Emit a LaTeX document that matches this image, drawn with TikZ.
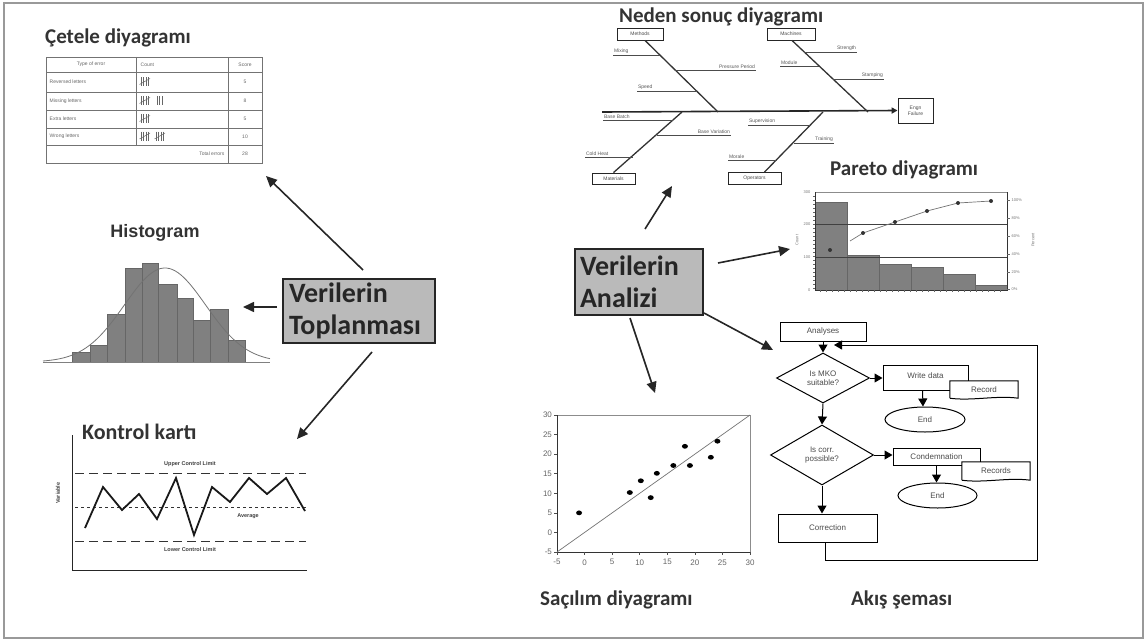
\documentclass[tikz,border=0pt]{standalone}
\usepackage{fontspec}
\setmainfont{Carlito}
\newfontfamily\lsans{Liberation Sans}
\usetikzlibrary{arrows.meta,shapes.geometric,calc}

\begin{document}
\begin{tikzpicture}[x=1pt,y=-1pt,
  ttl/.style={font=\bfseries\fontsize{21}{21}\selectfont, text=black!80, inner sep=0pt, anchor=base west},
  hub/.style={draw=black!85, line width=1.3pt, fill=black!27, font=\bfseries\fontsize{28}{32}\selectfont,
              align=left, text=black!85, inner sep=0pt},
  bigarrow/.style={draw=black!85, line width=1.6pt, -{Triangle[length=11pt,width=10pt]}},
  tab/.style={draw=black!55, line width=0.6pt},
  tabtxt/.style={font=\lsans\fontsize{5}{6}\selectfont, text=black!60, inner sep=0.5pt},
  tally/.style={draw=black!60, line width=0.5pt},
  bar/.style={draw=black!60, fill=black!50, line width=0.5pt},
  fl/.style={font=\lsans\fontsize{5}{5}\selectfont, text=black!65, inner sep=0.8pt},
  fbone/.style={draw=black!80, line width=1.3pt},
  rib/.style={draw=black!70, line width=0.6pt},
  fbox/.style={draw=black!85, line width=0.9pt, fill=white, font=\lsans\fontsize{5}{5}\selectfont,
               text=black!70, inner sep=1pt, align=center},
  ctl/.style={font=\lsans\bfseries\fontsize{5.5}{6}\selectfont, text=black!75, inner sep=0.5pt},
  tick/.style={font=\lsans\fontsize{8}{8}\selectfont, text=black!60, inner sep=1pt},
  ptick/.style={font=\lsans\fontsize{4}{4}\selectfont, text=black!55, inner sep=0.5pt},
  fcbox/.style={draw=black, line width=1pt, fill=white, font=\lsans\fontsize{8}{9}\selectfont,
                text=black!70, inner sep=1pt, align=center},
  fcdoc/.style={fill=white, font=\lsans\fontsize{8}{9}\selectfont, text=black!70, inner sep=1pt},
  fcline/.style={draw=black, line width=1pt},
  fcarrow/.style={draw=black, line width=1pt, -{Triangle[length=8pt,width=9pt]}},
  pics/tallyfive/.style={code={
    \foreach \dx in {0,2.5,5,7.5} \draw[tally] (\dx,0) -- (\dx,9);
    \draw[tally] (-1.5,7.5) -- (9,1.5);}},
  pics/tallyone/.style={code={\draw[tally] (0,0) -- (0,9);}}
]
\useasboundingbox (0,0) rectangle (1147,642);
\draw[black!40, line width=1.2pt] (4,3) rectangle (1143,638);

% ================= central boxes
\node[hub, minimum width=152pt, minimum height=64pt, text width=140pt] (topl) at (359,311) {Verilerin\\Toplanması};
\node[hub, minimum width=128pt, minimum height=66pt, text width=118pt] (anal) at (639,282) {Verilerin\\Analizi};

% ================= check sheet
\node[ttl] (tCet) at (45,44) {Çetele diyagramı};
\draw[tab] (46,57) rectangle (262,163);
\foreach \yy in {72,92,110,128,145} \draw[tab] (46,\yy) -- (262,\yy);
\draw[tab] (136,57) -- (136,145);
\draw[tab] (228,57) -- (228,163);
\node[tabtxt] (hType) at (91,64.5) {Type of error};
\node[tabtxt, anchor=west] (hCount) at (140,64.5) {Count};
\node[tabtxt] (hScore) at (245,64.5) {Score};
\node[tabtxt, anchor=west] (e1) at (49,82) {Reversed letters};
\node[tabtxt, anchor=west] (e2) at (49,101) {Missing letters};
\node[tabtxt, anchor=west] (e3) at (49,119) {Extra letters};
\node[tabtxt, anchor=west] (e4) at (49,136.5) {Wrong letters};
\node[tabtxt, anchor=east] (eT) at (225,154) {Total errors};
\node[tabtxt] (s1) at (245,82) {5};
\node[tabtxt] (s2) at (245,101) {8};
\node[tabtxt] (s3) at (245,119) {5};
\node[tabtxt] (s4) at (245,136.5) {10};
\node[tabtxt] (sT) at (245,154) {28};
\pic at (141,77) {tallyfive};
\pic at (141,96) {tallyfive};
\foreach \dx in {157,159.5,162} \pic at (\dx,96) {tallyone};
\pic at (141,114) {tallyfive};
\pic at (141,131.5) {tallyfive};
\pic at (156,131.5) {tallyfive};

% ================= histogram
\node[font=\lsans\bfseries\fontsize{18}{18}\selectfont, text=black!80, inner sep=0pt, anchor=base] (tHist) at (155,237) {Histogram};
\foreach \xa/\xb/\yt in {72/90/352, 90/107/345, 107/125/314, 125/142/268, 142/158/263,
                         158/177/284, 177/193/298, 193/210/320, 210/228/309, 228/245/340}
  \draw[bar] (\xa,362) rectangle (\xb,\yt);
\draw[black!50, line width=0.6pt] (43,362) -- (270,362);
\draw[black!55, line width=0.8pt] plot[domain=43:270, samples=80, smooth] (\x,{362-94*exp(-((\x-165)^2)/3300)});

% ================= control chart
\node[ttl, font=\bfseries\fontsize{22}{22}\selectfont] (tKon) at (82,439) {Kontrol kartı};
\draw[black!85, line width=1pt] (72,435) -- (72,570) -- (307,570);
\draw[black!80, line width=1pt, dash pattern=on 9pt off 5pt] (75,473) -- (306,473);
\draw[black!80, line width=0.9pt, dash pattern=on 3pt off 3pt] (75,507) -- (306,507);
\draw[black!80, line width=1pt, dash pattern=on 9pt off 5pt] (75,541) -- (306,541);
\node[ctl] (lUcl) at (190,464.5) {Upper Control Limit};
\node[ctl] (lAvg) at (248,516.5) {Average};
\node[ctl] (lLcl) at (190,550) {Lower Control Limit};
\node[ctl, rotate=90] (lVar) at (58,493) {Variable};
\draw[black!90, line width=1.8pt, line join=miter]
  (85,528) -- (103,487) -- (122,510) -- (139,494) -- (157,519) -- (176,478) -- (194,535)
  -- (212,487) -- (230,502) -- (249,478) -- (267,494) -- (286,478) -- (305,511);

% ================= cause and effect diagram
\node[ttl] (tNeden) at (619,23) {Neden sonuç diyagramı};
\node[fbox, minimum width=46pt, minimum height=12pt] (bMeth) at (640,34) {Methods};
\node[fbox, minimum width=48pt, minimum height=12pt] (bMach) at (791,34) {Machines};
\node[fbox, minimum width=43pt, minimum height=11pt] (bMat) at (613.5,178.5) {Materials};
\node[fbox, minimum width=53pt, minimum height=12pt] (bOper) at (754.5,178.5) {Operators};
\node[fbox, minimum width=35pt, minimum height=25pt, font=\lsans\fontsize{5}{6}\selectfont] (bHead) at (915.5,110.5) {Engn\\Failure};
\coordinate (spTail) at (602,112);
\draw[draw=black!85, line width=1.6pt, -{Triangle[length=6pt,width=6pt]}] (spTail) -- (bHead.west);
\draw[fbone] ($(bMeth.south)+(5,0)$) -- (718,112);
\draw[fbone] ($(bMach.south)+(1,0)$) -- (868,112);
\draw[fbone] (bMat.north) -- (682,112);
\draw[fbone] ($(bOper.north)+(10,0)$) -- (823,112);
% ribs: methods
\node[fl, anchor=south west] (rMix) at (613,55) {Mixing};
\draw[rib] (rMix.south west) -- (660,55);
\node[fl, anchor=south east] (rPre) at (756,70) {Pressure Period};
\draw[rib] (675,70) -- (rPre.south east);
\node[fl, anchor=south west] (rSpe) at (637,91) {Speed};
\draw[rib] (rSpe.south west) -- (697,91);
% ribs: materials
\node[fl, anchor=south west] (rBat) at (603,120) {Base Batch};
\draw[rib] (rBat.south west) -- (673,120);
\node[fl, anchor=south east] (rVar) at (731,135) {Base Variation};
\draw[rib] (657,135) -- (rVar.south east);
\node[fl, anchor=south west] (rCol) at (585,157) {Cold Heat};
\draw[rib] (rCol.south west) -- (633,157);
% ribs: machines
\node[fl, anchor=south east] (rStr) at (857,52) {Strength};
\draw[rib] (804,52) -- (rStr.south east);
\node[fl, anchor=south west] (rMod) at (780,66) {Module};
\draw[rib] (rMod.south west) -- (819,66);
\node[fl, anchor=south east] (rSta) at (884,79) {Stamping};
\draw[rib] (833,79) -- (rSta.south east);
% ribs: operators
\node[fl, anchor=south west] (rSup) at (748,125) {Supervision};
\draw[rib] (rSup.south west) -- (811,125);
\node[fl, anchor=south east] (rTra) at (834,143) {Training};
\draw[rib] (794,143) -- (rTra.south east);
\node[fl, anchor=south west] (rMor) at (728,160) {Morale};
\draw[rib] (rMor.south west) -- (777,160);

% ================= pareto chart
\node[ttl] (tPar) at (830,175) {Pareto diyagramı};
\foreach \xa/\xb/\yt in {815/847/202, 847/879/255, 879/911/264, 911/943/267, 943/975/274, 975/1007/285}
  \draw[bar] (\xa,290) rectangle (\xb,\yt);
\draw[black!45, line width=0.8pt] (815,192) -- (1007,192);
\draw[black!75, line width=0.8pt] (815,224) -- (1007,224);
\draw[black!75, line width=0.8pt] (815,257) -- (1007,257);
\draw[black!80, line width=0.8pt] (815,192) -- (815,290) -- (1007,290) -- (1007,192);
\foreach \yy in {196,200,...,288} \draw[black!60, line width=0.4pt] (813,\yy) -- (815,\yy);
\foreach \xx in {820,826,...,1004} \draw[black!60, line width=0.4pt] (\xx,290) -- (\xx,292);
\foreach \yy in {200,218,236,254,272,289} \draw[black!60, line width=0.4pt] (1007,\yy) -- (1010,\yy);
\foreach \yy/\tt in {192/300,224/200,257/100,290/0}
  \node[ptick, anchor=east] (pl\tt) at (811,\yy) {\tt};
\foreach \yy/\tt in {200/100\%,218/80\%,236/60\%,254/40\%,272/20\%,289/0\%}
  \node[ptick, anchor=west] at (1011,\yy) {\tt};
\node[ptick, rotate=90] (pCount) at (797,240) {Count};
\node[ptick, rotate=90] (pPerc) at (1033,240) {Percent};
\draw[black!55, line width=0.7pt] (850,241) -- (863,233) -- (895,222) -- (927,211) -- (958,203) -- (991,201);
\foreach \xx/\yy in {830/250, 863/233, 895/222, 927/211, 958/203, 991/201}
  \fill[black!80] (\xx,\yy) circle[radius=2pt];

% ================= scatter diagram
\begin{scope}[shift={(584.57,532.43)}, x=5.514pt, y=3.914pt]
  \draw[black!45, line width=0.6pt] (-5,-5) rectangle (30,30);
  \draw[black!80, line width=0.9pt] (-5,30) -- (-5,-5) -- (30,-5);
  \draw[black!55, line width=0.7pt] (-5,-5) -- (30,30);
  \foreach \v in {-5,0,...,30} {
    \draw[black!70, line width=0.5pt] (\v,-5) -- (\v,-5.8);
    \node[tick, anchor=north] (sx\v) at (\v,-6.6) {\v};
    \draw[black!70, line width=0.5pt] (-5,\v) -- (-5.5,\v);
    \node[tick, anchor=east] (sy\v) at (-5.7,\v) {\v};
  }
  \foreach \px/\py in {-1/5, 8.2/10.2, 10.2/13.2, 12/8.9, 13.1/15.1, 16.1/17.1, 18.2/22, 19.1/17.1, 22.9/19.2, 24.1/23.3}
    \fill[black] (\px,\py) ellipse[x radius=3pt, y radius=2.4pt];
\end{scope}
\node[ttl] (tSac) at (540,605) {Saçılım diyagramı};

% ================= flow chart
\node[fcbox, minimum width=86pt, minimum height=19pt] (ana) at (823,331.5) {Analyses};
\node[fcbox, diamond, aspect=1.85, inner sep=0pt, minimum width=93pt, minimum height=50pt] (dia1) at (823,378) {Is MKO\\suitable?};
\node[fcbox, minimum width=85pt, minimum height=25pt] (wd) at (925.5,377.5) {\raisebox{4pt}{Write data}};
\node[fcdoc, minimum width=68pt, minimum height=17pt] (rec1) at (984,389.5) {Record};
\draw[fcline] (rec1.south west) -- (rec1.north west) -- (rec1.north east) -- (rec1.south east)
  .. controls +(-22,-3) and +(22,3) .. (rec1.south west);
\node[fcbox, ellipse, minimum width=80pt, minimum height=25pt] (end1) at (925,419.5) {End};
\node[fcbox, diamond, aspect=1.72, inner sep=0pt, minimum width=103pt, minimum height=60pt] (dia2) at (822,455) {Is corr.\\possible?};
\node[fcbox, minimum width=87pt, minimum height=17pt] (cond) at (936.5,456.5) {Condemnation};
\node[fcdoc, minimum width=68pt, minimum height=18pt] (rec2) at (996,471) {Records};
\draw[fcline] (rec2.south west) -- (rec2.north west) -- (rec2.north east) -- (rec2.south east)
  .. controls +(-22,-3) and +(22,3) .. (rec2.south west);
\node[fcbox, ellipse, minimum width=79pt, minimum height=25pt] (end2) at (937.5,495.5) {End};
\node[fcbox, minimum width=99pt, minimum height=28pt] (corr) at (827.5,528) {Correction};
\node[ttl] (tAkis) at (851,605) {Akış şeması};

\draw[fcarrow] (ana.south) -- (dia1.north);
\draw[fcarrow] (dia1.east) -- (dia1.east -| wd.west);
\draw[fcarrow] ($(wd.south west)+(40,0)$) -- ($(end1.north)+(-2,0)$);
\draw[fcarrow] (dia1.south) -- (dia2.north);
\draw[fcarrow] (dia2.east) -- (dia2.east -| cond.west);
\draw[fcarrow] (cond.south) -- (end2.north -| cond.south);
\draw[fcarrow] (dia2.south) -- (dia2.south |- corr.north);
\coordinate (loopEnd) at (834,345);
\draw[fcarrow] ($(corr.south)+(-2,0)$) -- ++(0,18) -| (1037,345) -- (loopEnd);

% ================= arrows from the two hubs
\coordinate (t1s) at (363,270); \coordinate (t1e) at (266,176);
\coordinate (t2s) at (277,307); \coordinate (t2e) at (243,307);
\coordinate (t3s) at (372,352); \coordinate (t3e) at (297,439);
\coordinate (a1s) at (645,229); \coordinate (a1e) at (672,186);
\coordinate (a2s) at (718,263); \coordinate (a2e) at (790,249);
\coordinate (a3s) at (704,313); \coordinate (a3e) at (773,350);
\coordinate (a4s) at (630,318); \coordinate (a4e) at (655,393);
\foreach \s/\e in {t1s/t1e, t2s/t2e, t3s/t3e, a1s/a1e, a2s/a2e, a3s/a3e, a4s/a4e}
  \draw[bigarrow] (\s) -- (\e);
\end{tikzpicture}
\end{document}
